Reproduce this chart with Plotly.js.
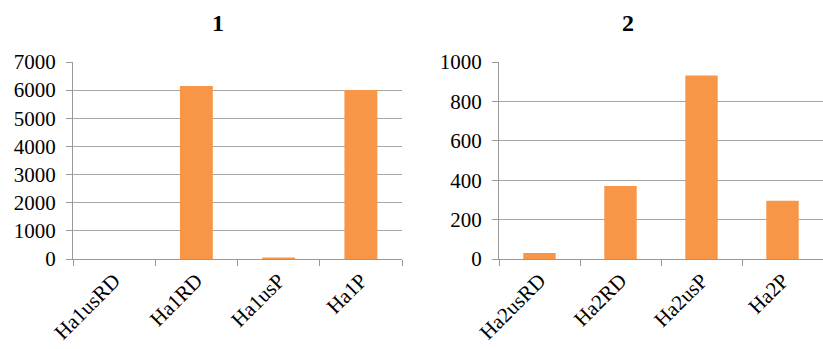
<!DOCTYPE html>
<html>
<head>
<meta charset="utf-8">
<script src="https://cdn.plot.ly/plotly-3.0.1.min.js"></script>
<style>html,body{margin:0;padding:0;background:#fff;}#chart{width:823px;height:349px;}</style>
</head>
<body>
<div id="chart"></div>
<script>
const categories1 = ["Ha1usRD", "Ha1RD", "Ha1usP", "Ha1P"];
const values1 = [0, 6150, 50, 6005];
const categories2 = ["Ha2usRD", "Ha2RD", "Ha2usP", "Ha2P"];
const values2 = [30, 370, 932, 296];
const titles = ["1", "2"];
const yTicks1 = [0, 1000, 2000, 3000, 4000, 5000, 6000, 7000];
const yTicks2 = [0, 200, 400, 600, 800, 1000];

const barColor = "#F79646";
const fam = '"Liberation Serif", "Times New Roman", serif';
const font = {family: fam, size: 21, color: "#000"};

const traces = [
  {type: "bar", x: categories1, y: values1, xaxis: "x", yaxis: "y",
   marker: {color: barColor}, hoverinfo: "x+y"},
  {type: "bar", x: categories2, y: values2, xaxis: "x2", yaxis: "y2",
   marker: {color: barColor}, hoverinfo: "x+y"}
];

function xax(domain, anchor) {
  return {domain: domain, anchor: anchor, type: "category",
    tickson: "boundaries", ticks: "outside", ticklen: 6, tickcolor: "#999",
    showline: true, linecolor: "#999", linewidth: 1,
    tickangle: -45, tickfont: font, showgrid: false, zeroline: false};
}
function yax(domain, anchor, ticks, max) {
  return {domain: domain, anchor: anchor, range: [0, max],
    tickvals: ticks, ticks: "outside", ticklen: 6, tickcolor: "#999",
    showline: true, linecolor: "#999", linewidth: 1, ticklabelstandoff: 6,
    showgrid: true, gridcolor: "#a6a6a6", gridwidth: 1, zeroline: false,
    tickfont: font};
}

const layout = {
  width: 823, height: 349,
  margin: {l: 0, r: 0, t: 62, b: 90},
  paper_bgcolor: "#fff", plot_bgcolor: "#fff",
  showlegend: false, bargap: 0.6,
  font: font,
  xaxis: xax([73/823, 402/823], "y"),
  yaxis: yax([0, 1], "x", yTicks1, 7000),
  xaxis2: xax([499/823, 1], "y2"),
  yaxis2: yax([0, 1], "x2", yTicks2, 1000),
  annotations: [
    {text: "<b>" + titles[0] + "</b>", x: 210/823, y: 23, xref: "paper", yref: "paper",
     showarrow: false, font: {family: fam, size: 24, color: "#000"}},
    {text: "<b>" + titles[1] + "</b>", x: 636/823, y: 23, xref: "paper", yref: "paper",
     showarrow: false, font: {family: fam, size: 24, color: "#000"}}
  ]
};
// convert pixel y for titles into paper coordinates
const plotH = 349 - 62 - 90;
layout.annotations.forEach(a => { a.y = (349 - 90 - a.y) / plotH; a.yanchor = "middle"; });

Plotly.newPlot("chart", traces, layout, {displayModeBar: false, staticPlot: true});
</script>
</body>
</html>
